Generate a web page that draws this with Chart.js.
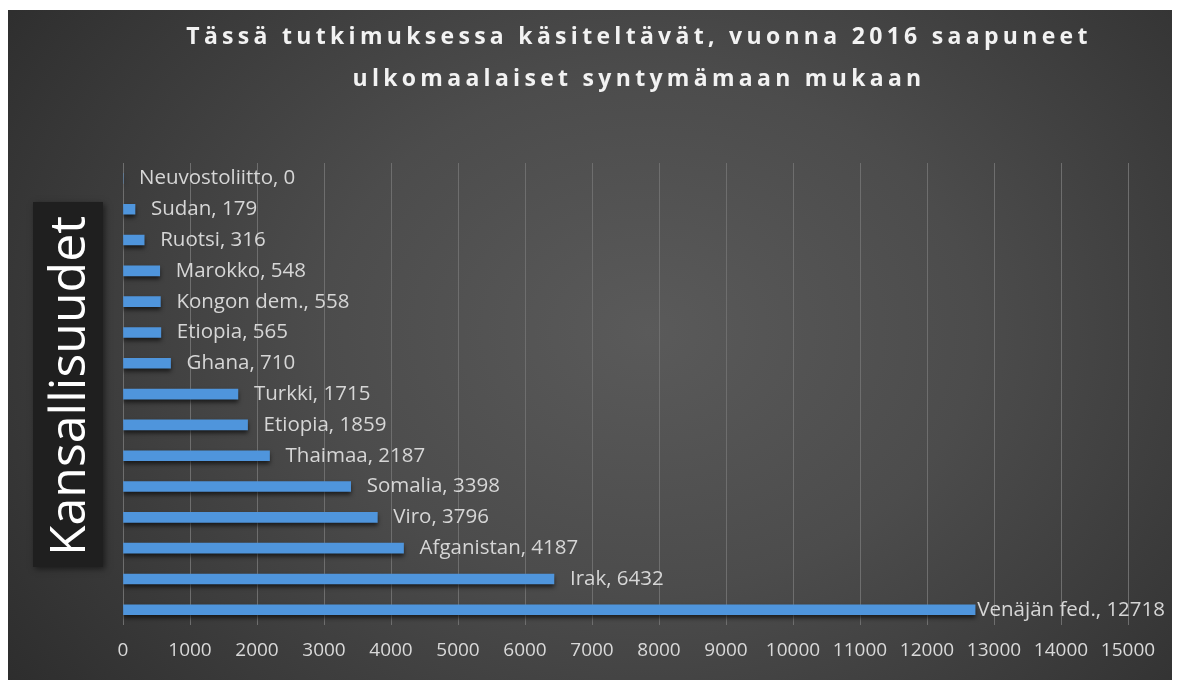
<!DOCTYPE html>
<html lang="fi">
  <head>
    <meta charset="UTF-8">
    <title>Saapuneet ulkomaalaiset</title>
    <script src="https://cdn.jsdelivr.net/npm/chart.js"></script>
    <style>
      body { margin: 0; background: #fff; }
      #paneeli {
        position: absolute; left: 8px; top: 10px; width: 1164px; height: 670px;
        background: radial-gradient(ellipse 70% 95% at 55% 48%, #5a5a5a 0%, #4c4c4c 40%, #2b2b2b 100%);
      }
    </style>
  </head>
  <body>
    <div id="paneeli"><canvas id="kaavio" width="1164" height="670"></canvas></div>
    <script>
      // Maat ylhäältä alas ja saapuneiden määrät
      const maat = ['Neuvostoliitto', 'Sudan', 'Ruotsi', 'Marokko', 'Kongon dem.', 'Etiopia', 'Ghana',
                    'Turkki', 'Etiopia', 'Thaimaa', 'Somalia', 'Viro', 'Afganistan', 'Irak', 'Venäjän fed.'];
      const maarat = [0, 179, 316, 548, 558, 565, 710, 1715, 1859, 2187, 3398, 3796, 4187, 6432, 12718];
      const otsikko = ['Tässä tutkimuksessa käsiteltävät, vuonna 2016 saapuneet',
                       'ulkomaalaiset syntymämaan mukaan'];
      const akseliOtsikko = 'Kansallisuudet';
      const xMax = 15000, xAskel = 1000;

      // Otsikot ja palkkien tekstit piirretään itse
      const tekstit = {
        id: 'tekstit',
        beforeDraw(chart) {
          const ctx = chart.ctx;
          ctx.save();
          // pystyakselin laatikko
          ctx.shadowColor = 'rgba(0,0,0,0.5)';
          ctx.shadowBlur = 6;
          ctx.shadowOffsetX = 2;
          ctx.shadowOffsetY = 2;
          ctx.fillStyle = '#1f1f1f';
          ctx.fillRect(25, 192, 70, 365);
          ctx.restore();

          ctx.save();
          ctx.translate(77, 376);
          ctx.rotate(-Math.PI / 2);
          ctx.fillStyle = '#ffffff';
          ctx.font = '50px "Open Sans"';
          ctx.textAlign = 'center';
          ctx.textBaseline = 'alphabetic';
          ctx.fillText(akseliOtsikko, 0, 0);
          ctx.restore();

          ctx.save();
          ctx.fillStyle = '#f2f2f2';
          ctx.font = 'bold 23px "Open Sans"';
          ctx.letterSpacing = '4.3px';
          ctx.textAlign = 'center';
          ctx.textBaseline = 'alphabetic';
          ctx.fillText(otsikko[0], 631, 34);
          ctx.fillText(otsikko[1], 631, 76);
          ctx.restore();
        },
        beforeDatasetsDraw(chart) {
          chart.ctx.save();
          chart.ctx.shadowColor = 'rgba(0,0,0,0.6)';
          chart.ctx.shadowBlur = 4;
          chart.ctx.shadowOffsetY = 3;
        },
        afterDatasetsDraw(chart) {
          chart.ctx.restore();
        },
        afterDraw(chart) {
          const ctx = chart.ctx;
          const x = chart.scales.x;
          const bars = chart.getDatasetMeta(0).data;
          ctx.save();
          ctx.fillStyle = '#d6d6d6';
          ctx.font = '20.5px "Open Sans"';
          ctx.textBaseline = 'middle';
          bars.forEach((bar, i) => {
            const teksti = maat[i] + ', ' + maarat[i];
            const w = ctx.measureText(teksti).width;
            let tx = x.getPixelForValue(maarat[i]) + 16;
            tx = Math.min(tx, chart.width - 7 - w);
            ctx.fillText(teksti, tx, bar.y);
          });
          ctx.restore();
        }
      };

      new Chart(document.getElementById('kaavio'), {
        type: 'bar',
        data: {
          labels: maat,
          datasets: [{
            data: maarat,
            backgroundColor: '#4f95dc',
            barThickness: 10
          }]
        },
        options: {
          indexAxis: 'y',
          responsive: false,
          animation: false,
          layout: { padding: { left: 115, right: 44, top: 153, bottom: 4 } },
          plugins: { legend: { display: false }, tooltip: { enabled: false } },
          scales: {
            y: { display: false },
            x: {
              min: 0, max: xMax,
              ticks: {
                stepSize: xAskel, color: '#d9d9d9', font: { family: 'Open Sans', size: 19 },
                padding: 14, maxRotation: 0,
                callback: v => String(v)
              },
              grid: { color: '#6e6e6e', drawTicks: false },
              border: { display: false }
            }
          }
        },
        plugins: [tekstit]
      });
    </script>
  </body>
</html>
